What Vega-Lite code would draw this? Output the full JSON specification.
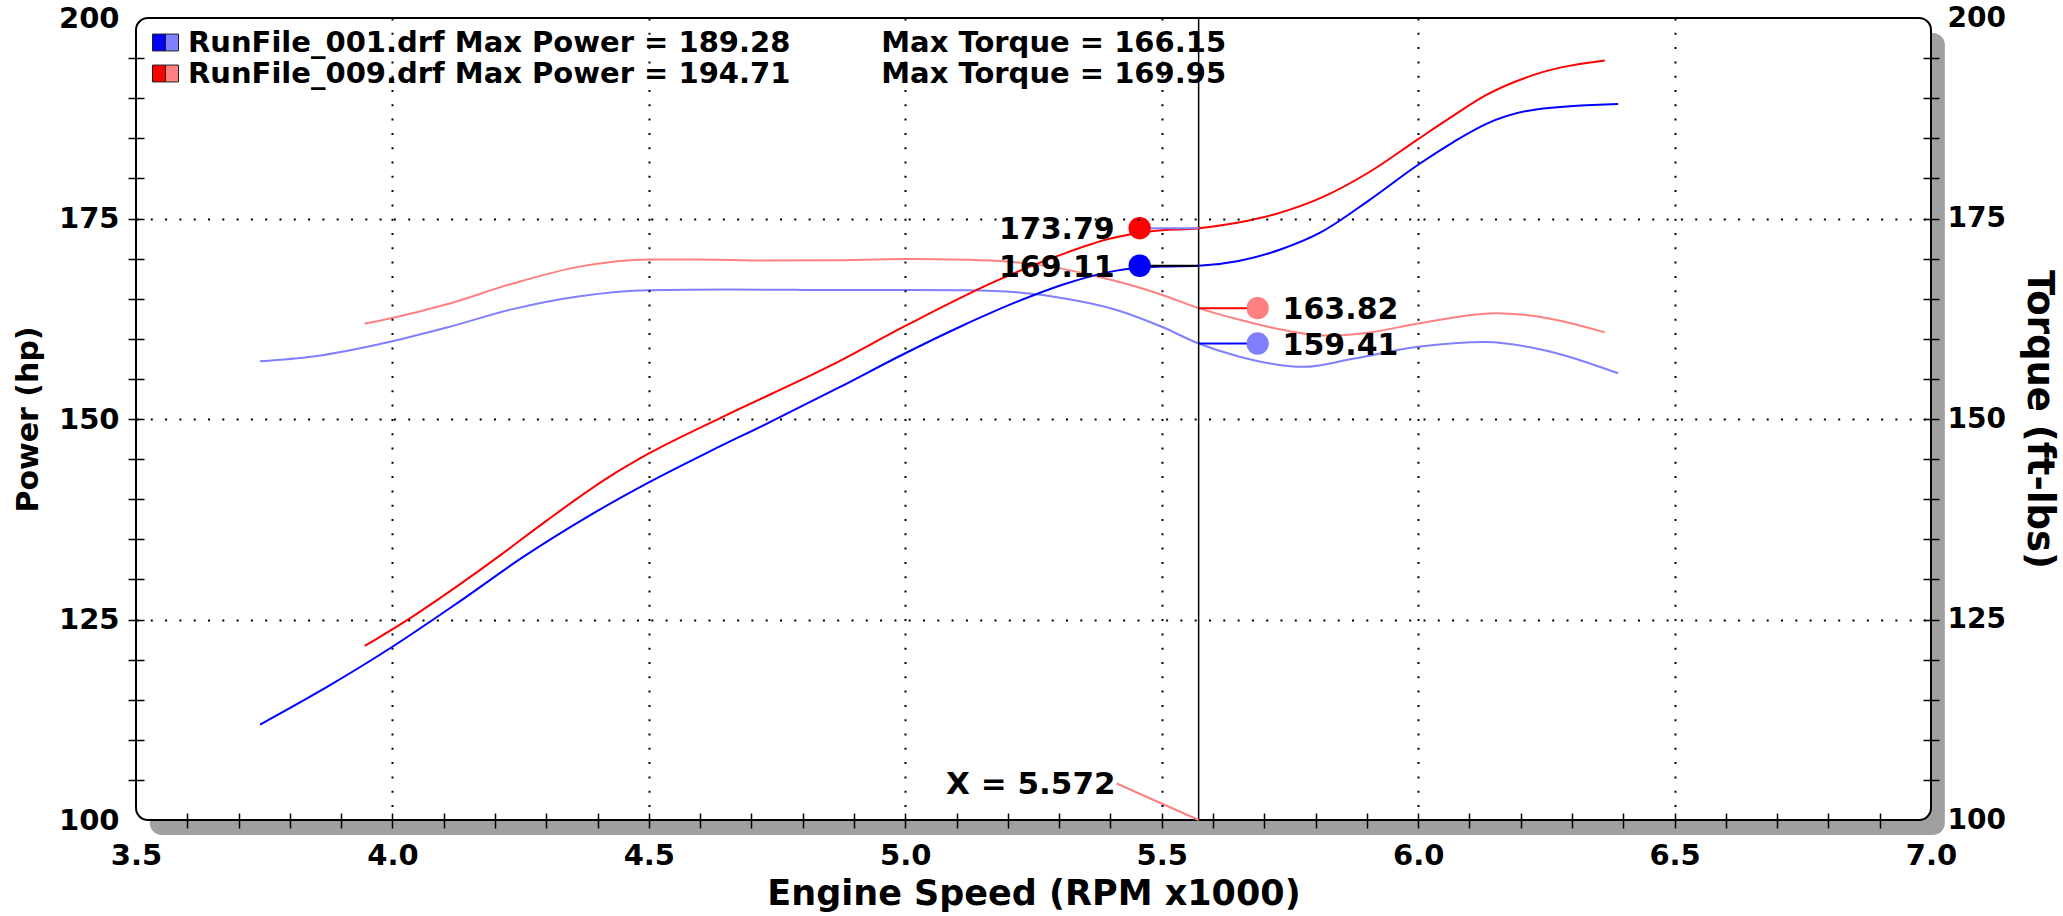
{
  "$schema": "https://vega.github.io/schema/vega-lite/v6.json",
  "width": 1795,
  "height": 802,
  "autosize": {"type": "none"},
  "padding": {"left": 136, "top": 18, "right": 132, "bottom": 96},
  "background": "white",
  "config": {"view": {"stroke": null}, "font": "DejaVu Sans"},
  "datasets": {
    "power": [
      {"run": "RunFile_001.drf", "rpm": 3.742, "hp": 111.9},
      {"run": "RunFile_001.drf", "rpm": 3.87, "hp": 116.5},
      {"run": "RunFile_001.drf", "rpm": 4.0, "hp": 121.6},
      {"run": "RunFile_001.drf", "rpm": 4.13, "hp": 127.2},
      {"run": "RunFile_001.drf", "rpm": 4.255, "hp": 132.8},
      {"run": "RunFile_001.drf", "rpm": 4.38, "hp": 137.8},
      {"run": "RunFile_001.drf", "rpm": 4.5, "hp": 142.1},
      {"run": "RunFile_001.drf", "rpm": 4.62, "hp": 146.0},
      {"run": "RunFile_001.drf", "rpm": 4.736, "hp": 149.6},
      {"run": "RunFile_001.drf", "rpm": 4.87, "hp": 153.9},
      {"run": "RunFile_001.drf", "rpm": 5.0, "hp": 158.2},
      {"run": "RunFile_001.drf", "rpm": 5.11, "hp": 161.6},
      {"run": "RunFile_001.drf", "rpm": 5.217, "hp": 164.6},
      {"run": "RunFile_001.drf", "rpm": 5.314, "hp": 166.9},
      {"run": "RunFile_001.drf", "rpm": 5.412, "hp": 168.5},
      {"run": "RunFile_001.drf", "rpm": 5.5, "hp": 169.0},
      {"run": "RunFile_001.drf", "rpm": 5.572, "hp": 169.11},
      {"run": "RunFile_001.drf", "rpm": 5.65, "hp": 169.7},
      {"run": "RunFile_001.drf", "rpm": 5.73, "hp": 171.1},
      {"run": "RunFile_001.drf", "rpm": 5.808, "hp": 173.2},
      {"run": "RunFile_001.drf", "rpm": 5.905, "hp": 177.3},
      {"run": "RunFile_001.drf", "rpm": 6.0, "hp": 181.7},
      {"run": "RunFile_001.drf", "rpm": 6.068, "hp": 184.5},
      {"run": "RunFile_001.drf", "rpm": 6.133, "hp": 186.8},
      {"run": "RunFile_001.drf", "rpm": 6.23, "hp": 188.6},
      {"run": "RunFile_001.drf", "rpm": 6.39, "hp": 189.28},
      {"run": "RunFile_009.drf", "rpm": 3.946, "hp": 121.7},
      {"run": "RunFile_009.drf", "rpm": 4.04, "hp": 125.4},
      {"run": "RunFile_009.drf", "rpm": 4.125, "hp": 129.1},
      {"run": "RunFile_009.drf", "rpm": 4.21, "hp": 133.0},
      {"run": "RunFile_009.drf", "rpm": 4.3, "hp": 137.3},
      {"run": "RunFile_009.drf", "rpm": 4.418, "hp": 142.6},
      {"run": "RunFile_009.drf", "rpm": 4.5, "hp": 145.7},
      {"run": "RunFile_009.drf", "rpm": 4.645, "hp": 150.3},
      {"run": "RunFile_009.drf", "rpm": 4.859, "hp": 156.8},
      {"run": "RunFile_009.drf", "rpm": 5.0, "hp": 161.6},
      {"run": "RunFile_009.drf", "rpm": 5.184, "hp": 167.4},
      {"run": "RunFile_009.drf", "rpm": 5.3, "hp": 170.4},
      {"run": "RunFile_009.drf", "rpm": 5.4, "hp": 172.5},
      {"run": "RunFile_009.drf", "rpm": 5.48, "hp": 173.4},
      {"run": "RunFile_009.drf", "rpm": 5.572, "hp": 173.79},
      {"run": "RunFile_009.drf", "rpm": 5.65, "hp": 174.5},
      {"run": "RunFile_009.drf", "rpm": 5.73, "hp": 175.7},
      {"run": "RunFile_009.drf", "rpm": 5.808, "hp": 177.5},
      {"run": "RunFile_009.drf", "rpm": 5.905, "hp": 180.8},
      {"run": "RunFile_009.drf", "rpm": 6.0, "hp": 184.9},
      {"run": "RunFile_009.drf", "rpm": 6.068, "hp": 187.8},
      {"run": "RunFile_009.drf", "rpm": 6.133, "hp": 190.4},
      {"run": "RunFile_009.drf", "rpm": 6.23, "hp": 193.0},
      {"run": "RunFile_009.drf", "rpm": 6.364, "hp": 194.71}
    ],
    "torque": [
      {"run": "RunFile_001.drf", "rpm": 3.742, "tq": 157.2},
      {"run": "RunFile_001.drf", "rpm": 3.846, "tq": 157.8},
      {"run": "RunFile_001.drf", "rpm": 4.0, "tq": 159.7},
      {"run": "RunFile_001.drf", "rpm": 4.106, "tq": 161.4},
      {"run": "RunFile_001.drf", "rpm": 4.235, "tq": 163.7},
      {"run": "RunFile_001.drf", "rpm": 4.365, "tq": 165.3},
      {"run": "RunFile_001.drf", "rpm": 4.5, "tq": 166.05},
      {"run": "RunFile_001.drf", "rpm": 4.65, "tq": 166.15},
      {"run": "RunFile_001.drf", "rpm": 4.8, "tq": 166.1},
      {"run": "RunFile_001.drf", "rpm": 5.0, "tq": 166.1},
      {"run": "RunFile_001.drf", "rpm": 5.12, "tq": 166.05},
      {"run": "RunFile_001.drf", "rpm": 5.217, "tq": 165.8},
      {"run": "RunFile_001.drf", "rpm": 5.314, "tq": 165.0},
      {"run": "RunFile_001.drf", "rpm": 5.412, "tq": 163.6},
      {"run": "RunFile_001.drf", "rpm": 5.5, "tq": 161.5},
      {"run": "RunFile_001.drf", "rpm": 5.572, "tq": 159.41},
      {"run": "RunFile_001.drf", "rpm": 5.65, "tq": 157.8},
      {"run": "RunFile_001.drf", "rpm": 5.776, "tq": 156.5},
      {"run": "RunFile_001.drf", "rpm": 5.873, "tq": 157.5},
      {"run": "RunFile_001.drf", "rpm": 6.0, "tq": 159.0},
      {"run": "RunFile_001.drf", "rpm": 6.133, "tq": 159.6},
      {"run": "RunFile_001.drf", "rpm": 6.23, "tq": 158.8},
      {"run": "RunFile_001.drf", "rpm": 6.39, "tq": 155.7},
      {"run": "RunFile_009.drf", "rpm": 3.946, "tq": 161.9},
      {"run": "RunFile_009.drf", "rpm": 4.0, "tq": 162.6},
      {"run": "RunFile_009.drf", "rpm": 4.106, "tq": 164.3},
      {"run": "RunFile_009.drf", "rpm": 4.235, "tq": 166.9},
      {"run": "RunFile_009.drf", "rpm": 4.365, "tq": 169.0},
      {"run": "RunFile_009.drf", "rpm": 4.5, "tq": 169.9},
      {"run": "RunFile_009.drf", "rpm": 4.6, "tq": 169.9},
      {"run": "RunFile_009.drf", "rpm": 4.73, "tq": 169.75},
      {"run": "RunFile_009.drf", "rpm": 4.86, "tq": 169.8},
      {"run": "RunFile_009.drf", "rpm": 5.0, "tq": 169.95},
      {"run": "RunFile_009.drf", "rpm": 5.087, "tq": 169.9},
      {"run": "RunFile_009.drf", "rpm": 5.184, "tq": 169.7},
      {"run": "RunFile_009.drf", "rpm": 5.282, "tq": 169.0},
      {"run": "RunFile_009.drf", "rpm": 5.379, "tq": 167.7},
      {"run": "RunFile_009.drf", "rpm": 5.5, "tq": 165.5},
      {"run": "RunFile_009.drf", "rpm": 5.572, "tq": 163.82},
      {"run": "RunFile_009.drf", "rpm": 5.65, "tq": 162.4},
      {"run": "RunFile_009.drf", "rpm": 5.73, "tq": 161.2},
      {"run": "RunFile_009.drf", "rpm": 5.82, "tq": 160.4},
      {"run": "RunFile_009.drf", "rpm": 5.905, "tq": 160.8},
      {"run": "RunFile_009.drf", "rpm": 6.0, "tq": 161.9},
      {"run": "RunFile_009.drf", "rpm": 6.152, "tq": 163.2},
      {"run": "RunFile_009.drf", "rpm": 6.23, "tq": 162.8},
      {"run": "RunFile_009.drf", "rpm": 6.364, "tq": 160.8}
    ],
    "powerMarkers": [
      {"run": "RunFile_009.drf", "cursor": 5.572, "pos": 5.457, "value": 173.79},
      {"run": "RunFile_001.drf", "cursor": 5.572, "pos": 5.457, "value": 169.11}
    ],
    "torqueMarkers": [
      {"run": "RunFile_009.drf", "cursor": 5.572, "pos": 5.687, "value": 163.82},
      {"run": "RunFile_001.drf", "cursor": 5.572, "pos": 5.687, "value": 159.41}
    ],
    "cursor": [
      {"rpm": 5.572, "label": "X = 5.572", "labelRpm": 5.412, "labelY": 104.55, "base": 100}
    ]
  },
  "layer": [
    {
      "data": {"values": [{}]},
      "mark": {"type": "rect", "fill": "#a0a0a0", "cornerRadius": 12},
      "encoding": {
        "x": {"datum": 3.527, "type": "quantitative", "scale": {"domain": [3.5, 7.0], "nice": false, "zero": false}},
        "x2": {"datum": 7.027},
        "y": {"datum": 98.13, "type": "quantitative", "scale": {"domain": [100, 200], "nice": false, "zero": false}, "axis": null},
        "y2": {"datum": 198.13}
      }
    },
    {
      "data": {"values": [{}]},
      "mark": {"type": "rect", "fill": "white", "stroke": "black", "strokeWidth": 2, "cornerRadius": 12},
      "encoding": {
        "x": {"datum": 3.5, "type": "quantitative", "scale": {"domain": [3.5, 7.0], "nice": false, "zero": false}},
        "x2": {"datum": 7.0},
        "y": {"datum": 100, "type": "quantitative", "scale": {"domain": [100, 200], "nice": false, "zero": false}, "axis": null},
        "y2": {"datum": 200}
      }
    },
    {
      "data": {"name": "torque"},
      "mark": {"type": "line", "interpolate": "monotone", "strokeWidth": 2},
      "encoding": {
        "x": {"field": "rpm", "type": "quantitative", "scale": {"domain": [3.5, 7.0], "nice": false, "zero": false}},
        "y": {
          "field": "tq", "type": "quantitative",
          "scale": {"domain": [100, 200], "nice": false, "zero": false},
          "axis": {
            "orient": "right",
            "title": "Torque (ft-lbs)",
            "values": [100, 105, 110, 115, 120, 125, 130, 135, 140, 145, 150, 155, 160, 165, 170, 175, 180, 185, 190, 195, 200],
            "labelExpr": "datum.value % 25 == 0 ? datum.label : ''",
            "labelOverlap": false,
            "labelFlush": false,
            "labelFont": "DejaVu Sans",
            "labelFontWeight": "bold",
            "labelFontSize": 28,
            "labelColor": "black",
            "labelPadding": 8,
            "domain": false,
            "offset": -8,
            "tickSize": 16,
            "tickWidth": 1.5,
            "tickColor": {"condition": {"test": "datum.value < 101 || datum.value > 199", "value": "transparent"}, "value": "black"},
            "grid": false,
            "titleFont": "DejaVu Sans",
            "titleFontWeight": "bold",
            "titleFontSize": 37,
            "titleColor": "black",
            "titlePadding": 14,
            "zindex": 1
          }
        },
        "stroke": {
          "field": "run", "type": "nominal",
          "scale": {"domain": ["RunFile_001.drf", "RunFile_009.drf"], "range": ["#8080ff", "#ff8080"]},
          "legend": null
        }
      }
    },
    {
      "data": {"name": "torqueMarkers"},
      "mark": {"type": "rule", "strokeWidth": 2},
      "encoding": {
        "x": {"field": "cursor", "type": "quantitative", "scale": {"domain": [3.5, 7.0], "nice": false, "zero": false}},
        "x2": {"field": "pos"},
        "y": {"field": "value", "type": "quantitative", "scale": {"domain": [100, 200], "nice": false, "zero": false}, "axis": null},
        "stroke": {"condition": {"test": "datum.run == 'RunFile_009.drf'", "value": "#ff0000"}, "value": "#0000ff"}
      }
    },
    {
      "data": {"name": "torqueMarkers"},
      "mark": {"type": "circle", "size": 500, "opacity": 1},
      "encoding": {
        "x": {"field": "pos", "type": "quantitative", "scale": {"domain": [3.5, 7.0], "nice": false, "zero": false}},
        "y": {"field": "value", "type": "quantitative", "scale": {"domain": [100, 200], "nice": false, "zero": false}, "axis": null},
        "fill": {
          "field": "run", "type": "nominal",
          "scale": {"domain": ["RunFile_001.drf", "RunFile_009.drf"], "range": ["#8080ff", "#ff8080"]},
          "legend": {
            "orient": "none",
            "legendX": 15,
            "legendY": 10,
            "title": null,
            "padding": 0,
            "symbolType": "M0,-0.65H1V0.65H0Z",
            "symbolSize": 676,
            "symbolStrokeColor": "#202020",
            "symbolStrokeWidth": 1,
            "symbolOpacity": 1,
            "labelExpr": "''",
            "labelFont": "DejaVu Sans",
            "labelFontWeight": "bold",
            "labelFontSize": 29,
            "labelOffset": 8,
            "labelLimit": 2000,
            "rowPadding": 1
          }
        }
      }
    },
    {
      "data": {"name": "torqueMarkers"},
      "mark": {"type": "text", "align": "left", "baseline": "middle", "dx": 25, "dy": 2, "font": "DejaVu Sans", "fontWeight": "bold", "fontSize": 30, "color": "black"},
      "encoding": {
        "x": {"field": "pos", "type": "quantitative", "scale": {"domain": [3.5, 7.0], "nice": false, "zero": false}},
        "y": {"field": "value", "type": "quantitative", "scale": {"domain": [100, 200], "nice": false, "zero": false}, "axis": null},
        "text": {"field": "value", "type": "quantitative", "format": ".2f"}
      }
    },
    {
      "data": {"name": "cursor"},
      "mark": {"type": "rule", "color": "black", "strokeWidth": 1.5},
      "encoding": {
        "x": {"field": "rpm", "type": "quantitative", "scale": {"domain": [3.5, 7.0], "nice": false, "zero": false}}
      }
    },
    {
      "data": {"name": "power"},
      "mark": {"type": "line", "interpolate": "monotone", "strokeWidth": 2},
      "encoding": {
        "x": {
          "field": "rpm", "type": "quantitative",
          "scale": {"domain": [3.5, 7.0], "nice": false, "zero": false},
          "axis": {
            "title": "Engine Speed (RPM x1000)",
            "values": [3.5, 3.6, 3.7, 3.8, 3.9, 4.0, 4.1, 4.2, 4.3, 4.4, 4.5, 4.6, 4.7, 4.8, 4.9, 5.0, 5.1, 5.2, 5.3, 5.4, 5.5, 5.6, 5.7, 5.8, 5.9, 6.0, 6.1, 6.2, 6.3, 6.4, 6.5, 6.6, 6.7, 6.8, 6.9, 7.0],
            "labelExpr": "round(datum.value * 10) % 5 == 0 ? format(datum.value, '.1f') : ''",
            "labelOverlap": false,
            "labelFlush": false,
            "labelFont": "DejaVu Sans",
            "labelFontWeight": "bold",
            "labelFontSize": 29,
            "labelColor": "black",
            "labelPadding": 13,
            "domain": false,
            "offset": -7,
            "tickSize": 15,
            "tickWidth": 1.5,
            "tickColor": {"condition": {"test": "datum.value < 3.55 || datum.value > 6.95", "value": "transparent"}, "value": "black"},
            "grid": true,
            "gridColor": {"condition": {"test": "round(datum.value * 10) % 5 == 0 && datum.value > 3.55 && datum.value < 6.95", "value": "black"}, "value": "transparent"},
            "gridDash": [2, 12.3],
            "gridWidth": 2,
            "titleFont": "DejaVu Sans",
            "titleFontWeight": "bold",
            "titleFontSize": 35,
            "titleColor": "black",
            "titlePadding": 6,
            "zindex": 1
          }
        },
        "y": {
          "field": "hp", "type": "quantitative",
          "scale": {"domain": [100, 200], "nice": false, "zero": false},
          "axis": {
            "orient": "left",
            "title": "Power (hp)",
            "values": [100, 105, 110, 115, 120, 125, 130, 135, 140, 145, 150, 155, 160, 165, 170, 175, 180, 185, 190, 195, 200],
            "labelExpr": "datum.value % 25 == 0 ? datum.label : ''",
            "labelOverlap": false,
            "labelFlush": false,
            "labelFont": "DejaVu Sans",
            "labelFontWeight": "bold",
            "labelFontSize": 29,
            "labelColor": "black",
            "labelPadding": 9,
            "domain": false,
            "offset": -8,
            "tickSize": 16,
            "tickWidth": 1.5,
            "tickColor": {"condition": {"test": "datum.value < 101 || datum.value > 199", "value": "transparent"}, "value": "black"},
            "grid": true,
            "gridColor": {"condition": {"test": "datum.value % 25 == 0 && datum.value > 101 && datum.value < 199", "value": "black"}, "value": "transparent"},
            "gridDash": [2, 12.3],
            "gridWidth": 2,
            "titleFont": "DejaVu Sans",
            "titleFontWeight": "bold",
            "titleFontSize": 30,
            "titleColor": "black",
            "titlePadding": 15,
            "zindex": 1
          }
        },
        "stroke": {
          "field": "run", "type": "nominal",
          "scale": {"domain": ["RunFile_001.drf", "RunFile_009.drf"], "range": ["#0000ff", "#ff0000"]},
          "legend": null
        }
      }
    },
    {
      "data": {"name": "powerMarkers"},
      "mark": {"type": "rule", "strokeWidth": 2},
      "encoding": {
        "x": {"field": "cursor", "type": "quantitative", "scale": {"domain": [3.5, 7.0], "nice": false, "zero": false}},
        "x2": {"field": "pos"},
        "y": {"field": "value", "type": "quantitative", "scale": {"domain": [100, 200], "nice": false, "zero": false}, "axis": null},
        "stroke": {"condition": {"test": "datum.run == 'RunFile_009.drf'", "value": "#8080ff"}, "value": "black"}
      }
    },
    {
      "data": {"name": "powerMarkers"},
      "mark": {"type": "circle", "size": 500, "opacity": 1},
      "encoding": {
        "x": {"field": "pos", "type": "quantitative", "scale": {"domain": [3.5, 7.0], "nice": false, "zero": false}},
        "y": {"field": "value", "type": "quantitative", "scale": {"domain": [100, 200], "nice": false, "zero": false}, "axis": null},
        "fill": {
          "field": "run", "type": "nominal",
          "scale": {"domain": ["RunFile_001.drf", "RunFile_009.drf"], "range": ["#0000ff", "#ff0000"]},
          "legend": {
            "orient": "none",
            "legendX": 15,
            "legendY": 10,
            "title": null,
            "padding": 0,
            "symbolType": "M-1,-0.65H0V0.65H-1Z",
            "symbolSize": 676,
            "symbolStrokeColor": "#202020",
            "symbolStrokeWidth": 1,
            "symbolOpacity": 1,
            "labelExpr": "datum.value == 'RunFile_001.drf' ? 'RunFile_001.drf Max Power = 189.28\u00a0\u00a0\u00a0\u00a0\u00a0\u00a0\u00a0\u00a0\u00a0Max Torque = 166.15' : 'RunFile_009.drf Max Power = 194.71\u00a0\u00a0\u00a0\u00a0\u00a0\u00a0\u00a0\u00a0\u00a0Max Torque = 169.95'",
            "labelFont": "DejaVu Sans",
            "labelFontWeight": "bold",
            "labelFontSize": 29,
            "labelColor": "black",
            "labelOffset": 8,
            "labelLimit": 2000,
            "rowPadding": 1
          }
        }
      }
    },
    {
      "data": {"name": "powerMarkers"},
      "mark": {"type": "text", "align": "right", "baseline": "middle", "dx": -25, "dy": 2, "font": "DejaVu Sans", "fontWeight": "bold", "fontSize": 30, "color": "black"},
      "encoding": {
        "x": {"field": "pos", "type": "quantitative", "scale": {"domain": [3.5, 7.0], "nice": false, "zero": false}},
        "y": {"field": "value", "type": "quantitative", "scale": {"domain": [100, 200], "nice": false, "zero": false}, "axis": null},
        "text": {"field": "value", "type": "quantitative", "format": ".2f"}
      }
    },
    {
      "data": {"name": "cursor"},
      "mark": {"type": "rule", "color": "#ff8080", "strokeWidth": 2},
      "encoding": {
        "x": {"field": "labelRpm", "type": "quantitative", "scale": {"domain": [3.5, 7.0], "nice": false, "zero": false}},
        "x2": {"field": "rpm"},
        "y": {"field": "labelY", "type": "quantitative", "scale": {"domain": [100, 200], "nice": false, "zero": false}, "axis": null},
        "y2": {"field": "base"}
      }
    },
    {
      "data": {"name": "cursor"},
      "mark": {"type": "text", "align": "right", "baseline": "middle", "dx": -1, "dy": 1, "font": "DejaVu Sans", "fontWeight": "bold", "fontSize": 31, "color": "black"},
      "encoding": {
        "x": {"field": "labelRpm", "type": "quantitative", "scale": {"domain": [3.5, 7.0], "nice": false, "zero": false}},
        "y": {"field": "labelY", "type": "quantitative", "scale": {"domain": [100, 200], "nice": false, "zero": false}, "axis": null},
        "text": {"field": "label"}
      }
    }
  ],
  "resolve": {
    "scale": {"y": "independent", "fill": "independent", "stroke": "independent"},
    "axis": {"y": "independent"}
  }
}
